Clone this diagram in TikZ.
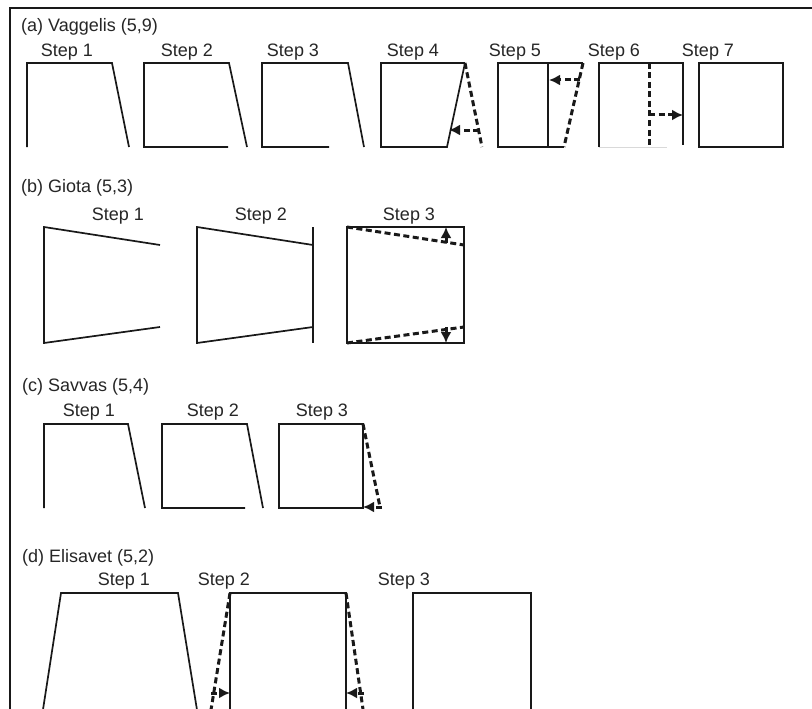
\documentclass[tikz,border=0pt]{standalone}
\usepackage{fontspec}
\setmainfont{Liberation Sans}
\usetikzlibrary{arrows.meta}
\tikzset{
  edge/.style={line width=1.7pt, draw=black!90, line join=miter},
  dashedge/.style={line width=3pt, draw=black!90, dash pattern=on 6pt off 3.5pt},
  movearrow/.style={line width=3pt, draw=black!90, dash pattern=on 6pt off 3.5pt, -{Latex[length=11pt,width=11pt]}},
  lbl/.style={font=\fontsize{18}{20}\selectfont, text=black!85, inner sep=0pt, anchor=base},
  ttl/.style={font=\fontsize{18}{20}\selectfont, text=black!85, inner sep=0pt, anchor=base west},
}
\begin{document}
\begin{tikzpicture}[x=1pt,y=-1pt]
\useasboundingbox (0,0) rectangle (812,709);
\clip (0,0) rectangle (812,709);
\fill[white] (0,0) rectangle (812,709);
% frame
\draw[edge] (812,8) -- (10,8) -- (10,712);

% ---------- (a) Vaggelis
\node[ttl] (ta) at (21,32) {(a) Vaggelis (5,9)};
\node[lbl] (a1) at (67,57) {Step 1};
\node[lbl] (a2) at (187,57) {Step 2};
\node[lbl] (a3) at (293,57) {Step 3};
\node[lbl] (a4) at (413,57) {Step 4};
\node[lbl] (a5) at (515,57) {Step 5};
\node[lbl] (a6) at (614,57) {Step 6};
\node[lbl] (a7) at (708,57) {Step 7};
% step 1
\draw[edge] (27,147) -- (27,63) -- (112,63) -- (129,147);
% step 2
\draw[edge] (228,147) -- (144,147) -- (144,63) -- (229,63) -- (247,147);
% step 3
\draw[edge] (329,147) -- (262,147) -- (262,63) -- (348,63) -- (364,147);
% step 4
\draw[edge] (465,63) -- (381,63) -- (381,147) -- (447,147) -- (465,63);
\draw[dashedge] (465,63) -- (482,147);
\draw[movearrow] (479,130) -- (449,130);
% step 5
\draw[edge] (498,63) rectangle (548,147);
\draw[edge] (548,63) -- (583,63);
\draw[edge] (548,147) -- (564,147);
\draw[dashedge] (583,63) -- (564,147);
\draw[movearrow] (580,80) -- (549,80);
% step 6
\draw[edge] (599,147) -- (599,63) -- (683,63) -- (683,145);
\draw[line width=1pt, draw=black!15] (599,147) -- (667,147);
\draw[dashedge] (649,63) -- (649,147);
\draw[movearrow] (649,115) -- (683,115);
% step 7
\draw[edge] (699,63) rectangle (783,147);

% ---------- (b) Giota
\node[ttl] (tb) at (21,192) {(b) Giota (5,3)};
\node[lbl] (b1) at (118,220) {Step 1};
\node[lbl] (b2) at (261,220) {Step 2};
\node[lbl] (b3) at (409,220) {Step 3};
% step 1
\draw[edge] (160,245) -- (44,227) -- (44,343) -- (160,327);
% step 2
\draw[edge] (313,245) -- (197,227) -- (197,343) -- (313,327);
\draw[edge] (313,227) -- (313,343);
% step 3
\draw[edge] (347,227) rectangle (464,343);
\draw[dashedge] (347,227) -- (464,245);
\draw[dashedge] (347,343) -- (464,327);
\draw[movearrow] (446,243) -- (446,227);
\draw[movearrow] (446,327) -- (446,343);

% ---------- (c) Savvas
\node[ttl] (tc) at (22,391) {(c) Savvas (5,4)};
\node[lbl] (c1) at (89,416) {Step 1};
\node[lbl] (c2) at (213,416) {Step 2};
\node[lbl] (c3) at (322,416) {Step 3};
% step 1
\draw[edge] (44,508) -- (44,424) -- (128,424) -- (145,508);
% step 2
\draw[edge] (245,508) -- (162,508) -- (162,424) -- (247,424) -- (263,508);
% step 3
\draw[edge] (279,424) rectangle (363,508);
\draw[dashedge] (363,424) -- (380,507);
\draw[movearrow] (382,507) -- (363,507);

% ---------- (d) Elisavet
\node[ttl] (td) at (22,562) {(d) Elisavet (5,2)};
\node[lbl] (d1) at (124,585) {Step 1};
\node[lbl] (d2) at (224,585) {Step 2};
\node[lbl] (d3) at (404,585) {Step 3};
% step 1
\draw[edge] (42,716) -- (61,593) -- (178,593) -- (198,716);
% step 2
\draw[edge] (230,716) -- (230,593) -- (346,593) -- (346,716);
\draw[dashedge] (230,593) -- (210,716);
\draw[dashedge] (346,593) -- (364,716);
\draw[movearrow] (211,693) -- (230,693);
\draw[movearrow] (364,693) -- (346,693);
% step 3
\draw[edge] (413,716) -- (413,593) -- (531,593) -- (531,716);
\end{tikzpicture}
\end{document}
